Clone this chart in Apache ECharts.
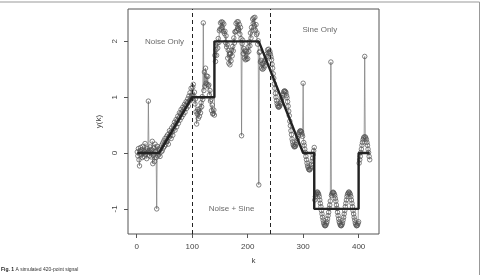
<!DOCTYPE html>
<html>
<head>
<meta charset="utf-8">
<script src="https://cdn.jsdelivr.net/npm/echarts@6.0.0/dist/echarts.min.js"></script>
<style>
  html, body { margin: 0; padding: 0; background: #fff; }
  #chart { width: 481px; height: 275px; }
</style>
</head>
<body>
<div id="chart"></div>
<script>
// observed y(k), k = 1..100 (noise only)
const noiseOnly = [
  0.02, -0.05, 0.08, -0.12, -0.23, 0.04, 0.10, -0.03, 0.06, -0.08,
  0.12, 0.00, -0.06, 0.03, 0.17, -0.02, 0.05, -0.10, 0.08, 0.02,
  0.93, 0.04, -0.05, 0.11, 0.01, -0.07, 0.06, 0.21, -0.19, -0.04,
  0.09, -0.15, 0.16, 0.03, -0.08, -1.00, 0.12, -0.05, 0.07, -0.02,
  0.05, -0.06, 0.10, 0.02, 0.14, 0.04, 0.18, 0.09, 0.22, 0.12,
  0.26, 0.15, 0.20, 0.30, 0.21, 0.33, 0.16, 0.28, 0.40, 0.31,
  0.37, 0.26, 0.45, 0.38, 0.32, 0.49, 0.44, 0.55, 0.41, 0.52,
  0.60, 0.47, 0.58, 0.66, 0.53, 0.63, 0.72, 0.59, 0.70, 0.78,
  0.64, 0.74, 0.82, 0.69, 0.79, 0.87, 0.73, 0.85, 0.92, 0.80,
  0.90, 0.97, 0.84, 1.02, 0.93, 1.08, 0.95, 1.16, 1.03, 0.98
];
// k = 101..240 (noise + sine)
const noiseSine = [
  1.18, 1.23, 1.02, 1.09, 0.88, 0.97, 0.74, 0.52, 0.70, 0.78,
  0.62, 0.75, 0.66, 0.80, 0.72, 0.90, 0.83, 1.01, 0.96, 2.33,
  1.12, 1.45, 1.20, 1.52, 1.25, 1.38, 1.23, 1.37, 1.20, 1.22,
  1.04, 1.12, 0.93, 0.96, 0.76, 0.86, 0.70, 0.71, 0.77, 0.68,
  1.75, 1.64, 1.85, 1.75, 1.97, 1.88, 2.05, 1.98, 2.19, 2.22,
  2.33, 2.22, 2.35, 2.25, 2.34, 2.18, 2.31, 2.14, 2.18, 1.98,
  2.10, 1.90, 1.94, 1.70, 1.84, 1.61, 1.77, 1.58, 1.78, 1.65,
  1.84, 1.74, 1.91, 1.83, 2.06, 1.97, 2.17, 2.17, 2.32, 2.19,
  2.35, 2.23, 2.35, 2.21, 2.30, 2.13, 2.25, 2.05, 0.31, 1.96,
  2.02, 1.78, 1.87, 1.70, 1.83, 1.67, 1.82, 1.68, 1.79, 1.69,
  1.90, 1.82, 1.99, 1.92, 2.15, 2.06, 2.25, 2.19, 2.40, 2.32,
  2.42, 2.28, 2.43, 2.20, 2.30, 2.12, 2.15, 1.95, 2.01, -0.57,
  1.80, 1.82, 1.63, 1.66, 1.52, 1.60, 1.50, 1.60, 1.52, 1.64,
  1.56, 1.68, 1.67, 1.77, 1.73, 1.85, 1.80, 1.86, 1.79, 1.82
];
// k = 241..420 (sine only, with a few outliers)
const sineOnly = [
  1.77, 1.72, 1.67, 1.59, 1.52, 1.42, 1.34, 1.24, 1.16, 1.07,
  1.00, 0.94, 0.89, 0.85, 0.83, 0.82, 0.83, 0.85, 0.88, 0.91,
  0.95, 0.99, 1.03, 1.06, 1.10, 1.11, 1.11, 1.10, 1.08, 1.03,
  0.99, 0.92, 0.84, 0.75, 0.67, 0.57, 0.49, 0.40, 0.33, 0.25,
  0.20, 0.15, 0.13, 0.11, 0.12, 0.12, 0.15, 0.18, 0.22, 0.26,
  0.30, 0.34, 0.37, 0.39, 0.40, 0.39, 0.38, 0.34, 0.30, 1.25,
  0.19, 0.14, 0.07, 0.01, -0.06, -0.12, -0.18, -0.23, -0.26, -0.29,
  -0.30, -0.30, -0.28, -0.25, -0.20, -0.15, -0.09, -0.03, 0.04, 0.10,
  -0.84, -0.78, -0.74, -0.72, -0.70, -0.70, -0.72, -0.74, -0.78, -0.84,
  -0.90, -0.96, -1.03, -1.09, -1.15, -1.20, -1.25, -1.28, -1.30, -1.30,
  -1.29, -1.26, -1.23, -1.18, -1.12, -1.06, -0.99, -0.93, -0.86, 1.63,
  -0.76, -0.73, -0.71, -0.70, -0.71, -0.73, -0.76, -0.81, -0.86, -0.93,
  -0.99, -1.06, -1.12, -1.18, -1.23, -1.26, -1.29, -1.30, -1.30, -1.28,
  -1.25, -1.20, -1.15, -1.09, -1.03, -0.96, -0.90, -0.84, -0.78, -0.74,
  -0.72, -0.70, -0.70, -0.72, -0.74, -0.78, -0.84, -0.90, -0.96, -1.03,
  -1.09, -1.15, -1.20, -1.25, -1.28, -1.30, -1.30, -1.29, -1.26, -1.23,
  -0.18, -0.12, -0.06, 0.01, 0.07, 0.14, 0.19, 0.24, 0.27, 0.29,
  1.73, 0.29, 0.27, 0.24, 0.19, 0.14, 0.07, 0.01, -0.06, -0.12
];

// true (noise-free) signal, as vertices
const truthK = [1, 40, 100, 140, 140, 220, 300, 320, 320, 400, 400, 420];
const truthY = [0, 0, 1, 1, 2, 2, 0, 0, -1, -1, 0, 0];

const regionBounds = [100, 240];
const regionLabels = ['Noise Only', 'Sine Only', 'Noise + Sine'];
const regionLabelK = [50, 330, 171];
const regionLabelY = [2.0, 2.2, -1.0];

const xTicks = [0, 100, 200, 300, 400];
const yTicks = [-1, 0, 1, 2];

const observed = noiseOnly.concat(noiseSine, sineOnly).map((v, i) => [i + 1, v]);
const truth = truthK.map((k, i) => [k, truthY[i]]);
const notes = regionLabelK.map((k, i) => [k, regionLabelY[i], regionLabels[i]]);

// R style axis range: data range padded by 4%
function pad(lo, hi) {
    const d = (hi - lo) * 0.04;
    return [lo - d, hi + d];
}
const ys = observed.map(p => p[1]);
const xr = pad(1, observed.length);
const yr = pad(Math.min(...ys), Math.max(...ys));

const txt = '#444';
const font = 'Liberation Sans, Arial, sans-serif';

const chart = echarts.init(document.getElementById('chart'), null, { renderer: 'canvas' });

chart.setOption({
    animation: false,
    backgroundColor: '#fff',
    textStyle: { fontFamily: font },
    grid: {
        left: 128, right: 102, top: 9, bottom: 41,
        show: true, borderColor: '#555', borderWidth: 1, backgroundColor: 'transparent'
    },
    xAxis: {
        type: 'value',
        min: xr[0], max: xr[1],
        axisLine: { show: false, onZero: false },
        splitLine: { show: false },
        axisTick: { customValues: xTicks, length: 4, lineStyle: { color: '#555' } },
        axisLabel: { customValues: xTicks, fontSize: 8, color: txt, margin: 9, fontFamily: font },
        name: 'k',
        nameLocation: 'middle',
        nameGap: 23,
        nameTextStyle: { fontSize: 8, color: txt, fontFamily: font }
    },
    yAxis: {
        type: 'value',
        min: yr[0], max: yr[1],
        axisLine: { show: false, onZero: false },
        splitLine: { show: false },
        axisTick: { customValues: yTicks, length: 4, lineStyle: { color: '#555' } },
        axisLabel: { customValues: yTicks, fontSize: 8, color: txt, margin: 9, rotate: 90, fontFamily: font },
        name: 'y(k)',
        nameLocation: 'middle',
        nameGap: 24,
        nameTextStyle: { fontSize: 8, color: txt, fontFamily: font }
    },
    series: [
        {
            name: 'observed',
            type: 'line',
            data: observed,
            symbol: 'circle',
            symbolSize: 4.5,
            showAllSymbol: true,
            itemStyle: { color: 'rgba(0,0,0,0)', borderColor: '#505050', borderWidth: 0.7 },
            lineStyle: { color: '#7a7a7a', width: 0.7 },
            z: 2,
            markLine: {
                silent: true,
                symbol: 'none',
                label: { show: false },
                lineStyle: { color: '#222', width: 1, type: [4, 3] },
                data: regionBounds.map(k => ({ xAxis: k }))
            }
        },
        {
            name: 'truth',
            type: 'line',
            data: truth,
            symbol: 'none',
            lineStyle: { color: '#222', width: 2.4 },
            z: 3
        },
        {
            name: 'notes',
            type: 'scatter',
            data: notes,
            symbolSize: 1,
            itemStyle: { color: 'rgba(0,0,0,0)' },
            label: {
                show: true,
                position: 'inside',
                formatter: p => p.data[2],
                fontSize: 8,
                color: txt,
                fontFamily: font
            },
            z: 4
        }
    ],
    graphic: [
        // figure frame (top and right edges)
        { type: 'line', shape: { x1: 0, y1: 2, x2: 479.5, y2: 2 }, style: { stroke: '#999', lineWidth: 1 } },
        { type: 'line', shape: { x1: 479.5, y1: 2, x2: 479.5, y2: 275 }, style: { stroke: '#999', lineWidth: 1 } },
        {
            type: 'text',
            left: 1,
            top: 267,
            style: {
                text: '{b|Fig. 1} A simulated 420-point signal',
                fill: '#333',
                font: '5px ' + font,
                rich: { b: { fontWeight: 'bold', fontSize: 5, fill: '#222', fontFamily: font } }
            }
        }
    ]
});
</script>
</body>
</html>
